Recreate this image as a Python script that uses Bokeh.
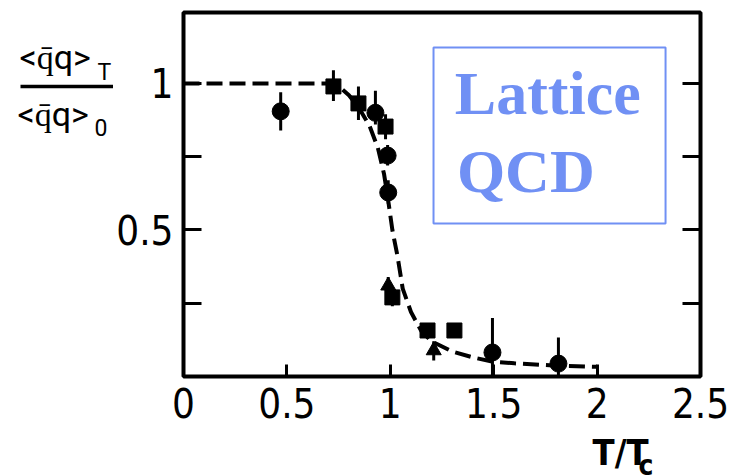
from bokeh.plotting import figure
from bokeh.layouts import row, column
from bokeh.models import (Range1d, FixedTicker, LinearAxis, BoxAnnotation,
                          ColumnDataSource)
from bokeh.core.properties import value
from bokeh.embed import file_html
from bokeh.resources import INLINE

# Chiral condensate ratio <qbar q>_T / <qbar q>_0 versus T/Tc
circle_t = [0.47, 0.928, 0.987, 0.99, 1.494, 1.813]
circle_v = [0.905, 0.90, 0.754, 0.628, 0.082, 0.044]
circle_lo = [0.84, 0.86, 0.72, 0.59, 0.0, 0.0]
circle_hi = [0.97, 0.975, 0.79, 0.67, 0.20, 0.133]

square_t = [0.725, 0.846, 0.977, 1.01, 1.18, 1.31]
square_v = [0.99, 0.932, 0.853, 0.27, 0.157, 0.157]
square_lo = [0.94, 0.875, 0.81, 0.24, 0.13, 0.14]
square_hi = [1.045, 0.99, 0.895, 0.30, 0.18, 0.175]

tri_t = [0.99, 1.21]
tri_v = [0.31, 0.089]
tri_lo = [0.28, 0.055]
tri_hi = [0.34, 0.12]

# dashed guide curve through the data
curve_t = [0.0, 0.72, 0.76, 0.80, 0.85, 0.90, 0.94, 0.97, 0.99, 1.01, 1.035,
           1.06, 1.10, 1.15, 1.20, 1.30, 1.40, 1.50, 1.60, 1.80, 2.0]
curve_v = [1.0, 1.0, 0.985, 0.96, 0.915, 0.855, 0.78, 0.69, 0.60, 0.50, 0.41,
           0.30, 0.22, 0.155, 0.12, 0.085, 0.065, 0.05, 0.045, 0.037, 0.033]

x_ticks = [0, 0.5, 1, 1.5, 2, 2.5]
x_tick_labels = ["0", "0.5", "1", "1.5", "2", "2.5"]
y_ticks = [0.25, 0.5, 0.75, 1.0]
y_tick_labels = ["", "0.5", "", "1"]

NUM_FONT = "DejaVu Sans Condensed"
FRAC_FONT = "Roboto"
SERIF = "Liberation Serif"
BLUE = "#7090f4"

LEFT_W = 113        # width of the panel holding the y quantity
MAIN_W = 731 - LEFT_W
MAIN_H = 434


def blank_panel(w, h):
    """A figure used only as a drawing surface in pixel coordinates (y down)."""
    f = figure(width=w, height=h, output_backend="svg", toolbar_location=None,
               x_range=Range1d(0, w), y_range=Range1d(h, 0),
               x_axis_location=None, y_axis_location=None, min_border=0,
               background_fill_color="white", border_fill_color="white")
    f.grid.visible = False
    f.outline_line_color = None
    return f


# ---- main plot -------------------------------------------------------------
p = figure(width=MAIN_W, height=MAIN_H, output_backend="svg",
           toolbar_location=None,
           x_range=Range1d(0, 2.5), y_range=Range1d(0, 1.2423),
           min_border_left=70, min_border_right=31, min_border_top=12,
           min_border_bottom=58, background_fill_color="white",
           border_fill_color="white")
p.grid.visible = False
p.outline_line_color = "black"
p.outline_line_width = 4

xa = p.xaxis[0]
xa.ticker = FixedTicker(ticks=x_ticks)
xa.major_label_overrides = {t: s for t, s in zip(x_ticks, x_tick_labels)}
xa.axis_line_color = None
xa.major_tick_in = 12
xa.major_tick_out = 0
xa.major_tick_line_width = 3
xa.minor_tick_line_color = None
xa.major_label_text_font = NUM_FONT
xa.major_label_text_font_size = "40px"
xa.major_label_text_color = "black"
xa.major_label_standoff = 11

ya = p.yaxis[0]
ya.ticker = FixedTicker(ticks=y_ticks)
ya.major_label_overrides = {t: s for t, s in zip(y_ticks, y_tick_labels)}
ya.axis_line_color = None
ya.major_tick_in = 18
ya.major_tick_out = 0
ya.major_tick_line_width = 3
ya.minor_tick_line_color = None
ya.major_label_text_font = NUM_FONT
ya.major_label_text_font_size = "40px"
ya.major_label_text_color = "black"
ya.major_label_standoff = 10

# right axis: ticks only
ra = LinearAxis(ticker=FixedTicker(ticks=y_ticks))
ra.axis_line_color = None
ra.major_tick_in = 18
ra.major_tick_out = 0
ra.major_tick_line_width = 3
ra.minor_tick_line_color = None
ra.major_label_text_color = None
ra.major_label_text_font_size = "1px"
p.add_layout(ra, "right")

p.line(curve_t, curve_v, line_color="black", line_width=4, line_dash="16 7")

for t, v, lo, hi in [(circle_t, circle_v, circle_lo, circle_hi),
                     (square_t, square_v, square_lo, square_hi),
                     (tri_t, tri_v, tri_lo, tri_hi)]:
    src = ColumnDataSource(dict(t=t, v=v, lo=lo, hi=hi))
    p.segment(x0="t", y0="lo", x1="t", y1="hi", source=src,
              line_color="black", line_width=3)

p.scatter(circle_t, circle_v, marker="circle", size=17, color="black")
p.scatter(square_t, square_v, marker="square", size=15, color="black")
p.scatter(tri_t, tri_v, marker="triangle", size=15, color="black")

# "Lattice QCD" tag
p.add_layout(BoxAnnotation(left=1.209, right=2.331, bottom=0.522, top=1.123,
                           fill_color=None, line_color=BLUE, line_alpha=1,
                           line_width=2))
p.text(x=[1.312, 1.322], y=[0.966, 0.70], text=["Lattice", "QCD"],
       text_color=BLUE, text_font=value(SERIF), text_font_style="bold",
       text_font_size="62px", text_baseline="alphabetic", text_align="left")

# ---- y quantity (fraction) on the left -------------------------------------
left = blank_panel(LEFT_W, 475)
left.text(x=[19, 17], y=[56, 113], text=["<q\u0304q>", "<q\u0304q>"],
          text_font=value(FRAC_FONT), text_font_size="34px",
          text_baseline="alphabetic", text_color="black")
left.text(x=[97, 94], y=[72, 127], text=["T", "0"],
          text_font=value(FRAC_FONT), text_font_size="23px",
          text_baseline="alphabetic", text_color="black")
left.segment(x0=[20], y0=[86], x1=[LEFT_W], y1=[86], line_color="black",
             line_width=3.5)

# ---- x quantity below --------------------------------------------------------
below = blank_panel(MAIN_W, 475 - MAIN_H)
below.text(x=[602 - LEFT_W], y=[18], text=["T/T"], text_font=value(NUM_FONT),
           text_font_size="36px", text_font_style="bold",
           text_baseline="alphabetic", text_color="black")
below.text(x=[657 - LEFT_W], y=[31], text=["c"], text_font=value(NUM_FONT),
           text_font_size="28px", text_font_style="bold",
           text_baseline="alphabetic", text_color="black")

layout = row(left, column(p, below, spacing=0), spacing=0)

open("out.html", "w").write(file_html(layout, INLINE))
